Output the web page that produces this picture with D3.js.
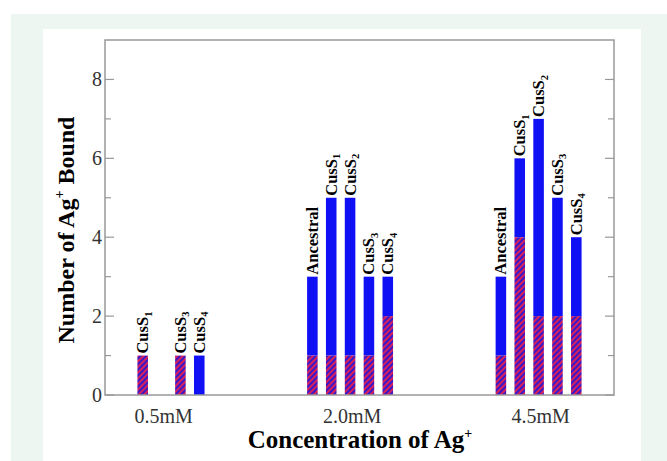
<!DOCTYPE html>
<html><head><meta charset="utf-8">
<script src="https://cdn.jsdelivr.net/npm/d3@7"></script>
<style>body{margin:0;background:#fff;} svg{display:block;}</style>
</head><body>
<svg id="chart" width="667" height="461"></svg>
<script>
// ---- data ----
const groups = ["0.5mM", "2.0mM", "4.5mM"];
const variants = ["Ancestral", "CusS1", "CusS2", "CusS3", "CusS4"];
const total05 = [0, 1, 0, 1, 1];
const hatched05 = [0, 1, 0, 1, 0];
const total20 = [3, 5, 5, 3, 3];
const hatched20 = [1, 1, 1, 1, 2];
const total45 = [3, 6, 7, 5, 4];
const hatched45 = [1, 4, 2, 2, 2];
const yMajorTicks = [0, 2, 4, 6, 8];
const yMinorTicks = [1, 3, 5, 7];

const totals = [total05, total20, total45];
const hatcheds = [hatched05, hatched20, hatched45];

const svg = d3.select("#chart");
// backgrounds
svg.append("rect").attr("x", 11).attr("y", 14).attr("width", 656).attr("height", 447).attr("fill", "#eef6f2");
svg.append("rect").attr("x", 43).attr("y", 29).attr("width", 598).attr("height", 432).attr("fill", "#ffffff");

const defs = svg.append("defs");
const pat = defs.append("pattern").attr("id", "hatch").attr("patternUnits", "userSpaceOnUse")
  .attr("width", 4).attr("height", 4).attr("patternTransform", "rotate(45)");
pat.append("rect").attr("width", 4).attr("height", 4).attr("fill", "#3a18c8");
pat.append("rect").attr("x", 0).attr("y", 0).attr("width", 2).attr("height", 4).attr("fill", "#d8205c");

const L = 105, R = 614, T = 40, B = 395;
const x = d3.scaleLinear().domain([0.7, 3.4]).range([L, R]);
const y = d3.scaleLinear().domain([0, 9]).range([B, T]);
const barW = x(0.756) - x(0.7);

const serif = "'Liberation Serif','Times New Roman',serif";

// bars
groups.forEach((g, gi) => {
  variants.forEach((v, vi) => {
    const tot = totals[gi][vi], h = hatcheds[gi][vi];
    if (tot <= 0) return;
    const cx = x(gi + 1 + (vi - 2) * 0.1);
    if (tot > h) {
      svg.append("rect").attr("x", cx - barW / 2).attr("width", barW)
        .attr("y", y(tot)).attr("height", y(h) - y(tot)).attr("fill", "#1010f5");
    }
    if (h > 0) {
      svg.append("rect").attr("x", cx - barW / 2).attr("width", barW)
        .attr("y", y(h)).attr("height", y(0) - y(h)).attr("fill", "url(#hatch)");
    }
    // label
    const t = svg.append("text")
      .attr("transform", `translate(${cx + 5.5},${y(tot) - 2}) rotate(-90)`)
      .attr("font-family", serif).attr("font-weight", "bold").attr("font-size", 16.5)
      .attr("fill", "#000");
    const m = v.match(/^(CusS)(\d)$/);
    if (m) {
      t.append("tspan").text(m[1]);
      t.append("tspan").attr("font-size", 10.5).attr("dy", 3.5).text(m[2]);
    } else {
      t.text(v);
    }
  });
});

// frame
svg.append("rect").attr("x", L).attr("y", T).attr("width", R - L).attr("height", B - T)
  .attr("fill", "none").attr("stroke", "#999").attr("stroke-width", 1.5);

// y ticks
yMajorTicks.forEach(d => {
  svg.append("line").attr("x1", L).attr("x2", L + 9).attr("y1", y(d)).attr("y2", y(d)).attr("stroke", "#999").attr("stroke-width", 1.2);
  svg.append("line").attr("x1", R).attr("x2", R - 9).attr("y1", y(d)).attr("y2", y(d)).attr("stroke", "#999").attr("stroke-width", 1.2);
  svg.append("text").attr("x", L - 3).attr("y", y(d)).attr("dy", "0.35em").attr("text-anchor", "end")
    .attr("font-family", serif).attr("font-size", 20).attr("fill", "#333").text(d);
});
yMinorTicks.forEach(d => {
  svg.append("line").attr("x1", L).attr("x2", L + 6).attr("y1", y(d)).attr("y2", y(d)).attr("stroke", "#999").attr("stroke-width", 1.2);
  svg.append("line").attr("x1", R).attr("x2", R - 6).attr("y1", y(d)).attr("y2", y(d)).attr("stroke", "#999").attr("stroke-width", 1.2);
});

// x labels
groups.forEach((g, gi) => {
  svg.append("text").attr("x", x(gi + 1) + 2).attr("y", 423).attr("text-anchor", "middle")
    .attr("font-family", serif).attr("font-size", 20).attr("fill", "#333").text(g);
});

// axis titles
const xt = svg.append("text").attr("x", 360).attr("y", 448).attr("text-anchor", "middle")
  .attr("font-family", serif).attr("font-weight", "bold").attr("font-size", 25).attr("fill", "#000");
xt.append("tspan").text("Concentration of Ag");
xt.append("tspan").attr("font-size", 14).attr("dy", -10).text("+");

const yt = svg.append("text").attr("transform", "translate(74,230) rotate(-90)").attr("text-anchor", "middle")
  .attr("font-family", serif).attr("font-weight", "bold").attr("font-size", 24).attr("fill", "#000");
yt.append("tspan").text("Number of Ag");
yt.append("tspan").attr("font-size", 14).attr("dy", -10).text("+");
yt.append("tspan").attr("dy", 10).text(" Bound");
</script>
</body></html>
